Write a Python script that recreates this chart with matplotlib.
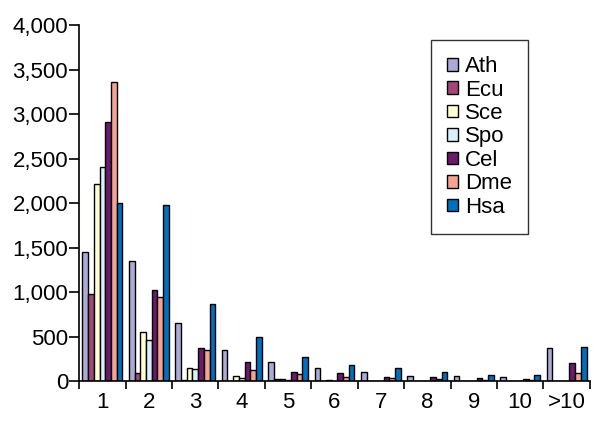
import numpy as np
import matplotlib
matplotlib.use('Agg')
import matplotlib.pyplot as plt
from matplotlib.ticker import FuncFormatter

plt.rcParams['font.family'] = ['Liberation Sans', 'DejaVu Sans']

categories = ['1', '2', '3', '4', '5', '6', '7', '8', '9', '10', '>10']
species = ['Ath', 'Ecu', 'Sce', 'Spo', 'Cel', 'Dme', 'Hsa']
colors = ['#ABABD5', '#A3477A', '#FFFFD2', '#D9F1F9', '#6C1A6C', '#F4A293', '#0070BE']

ath = [1450, 1350, 650, 350, 215, 150, 105, 60, 60, 45, 370]
ecu = [980, 90, 10, 5, 20, 5, 3, 3, 3, 3, 3]
sce = [2220, 550, 150, 60, 20, 10, 5, 5, 3, 3, 3]
spo = [2410, 460, 130, 35, 10, 5, 3, 3, 3, 3, 3]
cel = [2910, 1020, 370, 215, 105, 90, 45, 45, 30, 20, 200]
dme = [3360, 940, 350, 125, 80, 45, 30, 20, 12, 12, 85]
hsa = [2000, 1980, 870, 495, 265, 180, 142, 105, 67, 67, 380]
values = [ath, ecu, sce, spo, cel, dme, hsa]

fig = plt.figure(figsize=(6, 4.33), dpi=100)
ax = fig.add_axes([0.132, 0.12, 0.851, 0.822])

x = np.arange(len(categories))
w = 0.123
for i, (name, vals) in enumerate(zip(species, values)):
    ax.bar(x + (i - 3) * w, vals, w, color=colors[i], edgecolor='black',
           linewidth=1.0, label=name)

ax.set_xlim(-0.5, len(categories) - 0.5)
ax.set_ylim(0, 4000)
ax.set_yticks(np.arange(0, 4001, 500))
ax.yaxis.set_major_formatter(FuncFormatter(lambda v, p: '{:,.0f}'.format(v)))
ax.set_xticks(x)
ax.set_xticklabels(categories)
ax.set_xticks(np.arange(-0.5, len(categories), 1), minor=True)
ax.tick_params(axis='x', which='major', length=0, labelsize=16, pad=8)
ax.tick_params(axis='x', which='minor', length=6, width=1.2, direction='out')
ax.tick_params(axis='y', length=7, width=1.2, labelsize=16, pad=1)
for s in ['top', 'right']:
    ax.spines[s].set_visible(False)
for s in ['left', 'bottom']:
    ax.spines[s].set_linewidth(1.2)

leg = ax.legend(loc='upper left', bbox_to_anchor=(0.689, 0.958), fontsize=16,
                frameon=True, fancybox=False, edgecolor='black',
                handlelength=0.5, handleheight=0.5, handletextpad=0.3,
                labelspacing=0.11, borderpad=0.72, borderaxespad=0)
leg.get_frame().set_linewidth(1.0)

fig.savefig('out.png', dpi=100)
